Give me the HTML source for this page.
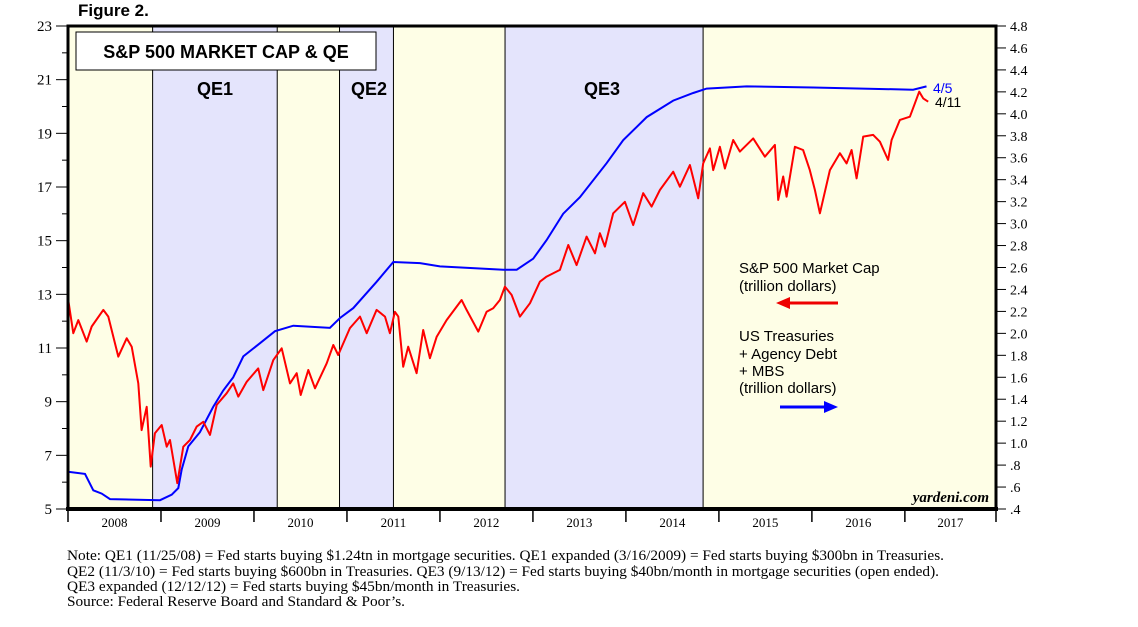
<!DOCTYPE html>
<html><head><meta charset="utf-8"><style>
body{margin:0;background:#fff;width:1138px;height:622px;overflow:hidden}
svg text{font-family:"Liberation Sans",sans-serif}
svg text.ser, svg .ser text{font-family:"Liberation Serif",serif}
</style></head><body>
<svg id="chart" width="1138" height="622" viewBox="0 0 1138 622" xmlns="http://www.w3.org/2000/svg">
<text x="78" y="16" font-size="17" font-weight="bold">Figure 2.</text>
<g id="bands"></g>
<g id="lines"></g>
<rect x="68" y="26" width="928" height="483" fill="none" stroke="#000" stroke-width="3"/>
<line x1="66" y1="509" x2="998" y2="509" stroke="#000" stroke-width="4"/>
<g id="axes"></g>
<rect x="76" y="32" width="300" height="38" fill="#fff" stroke="#000" stroke-width="1"/>
<text x="226" y="58" font-size="18" font-weight="bold" text-anchor="middle">S&amp;P 500 MARKET CAP &amp; QE</text>
<text x="215" y="95" font-size="18" font-weight="bold" text-anchor="middle">QE1</text>
<text x="369" y="95" font-size="18" font-weight="bold" text-anchor="middle">QE2</text>
<text x="602" y="95" font-size="18" font-weight="bold" text-anchor="middle">QE3</text>
<g font-size="15">
<text x="739" y="273">S&amp;P 500 Market Cap</text>
<text x="739" y="291">(trillion dollars)</text>
<line x1="785" y1="303" x2="838" y2="303" stroke="#e00" stroke-width="3"/>
<polygon points="776,303 790,297 790,309" fill="#e00"/>
</g>
<g font-size="15">
<text x="739" y="341">US Treasuries</text>
<text x="739" y="359">+ Agency Debt</text>
<text x="739" y="376">+ MBS</text>
<text x="739" y="393">(trillion dollars)</text>
<line x1="780" y1="407" x2="828" y2="407" stroke="#00f" stroke-width="3"/>
<polygon points="838,407 824,401 824,413" fill="#00f"/>
</g>
<text x="933" y="93" font-size="14" fill="#00f">4/5</text>
<text x="935" y="107" font-size="14">4/11</text>
<text class="ser" x="989" y="502" font-size="15" font-style="italic" font-weight="bold" text-anchor="end">yardeni.com</text>
<g class="ser" font-size="14.5">
<text x="67" y="560" textLength="877" lengthAdjust="spacingAndGlyphs">Note: QE1 (11/25/08) = Fed starts buying $1.24tn in mortgage securities. QE1 expanded (3/16/2009) = Fed starts buying $300bn in Treasuries.</text>
<text x="67" y="576" textLength="872" lengthAdjust="spacingAndGlyphs">QE2 (11/3/10) = Fed starts buying $600bn in Treasuries. QE3 (9/13/12) = Fed starts buying $40bn/month in mortgage securities (open ended).</text>
<text x="67" y="591" textLength="453" lengthAdjust="spacingAndGlyphs">QE3 expanded (12/12/12) = Fed starts buying $45bn/month in Treasuries.</text>
<text x="67" y="606" textLength="338" lengthAdjust="spacingAndGlyphs">Source: Federal Reserve Board and Standard &amp; Poor’s.</text>
</g>
</svg>
<script>
const spDates=[2008.00,2008.057,2008.111,2008.201,2008.255,2008.380,2008.433,2008.541,2008.631,2008.685,2008.756,2008.792,2008.846,2008.889,2008.935,2009.008,2009.061,2009.097,2009.175,2009.240,2009.312,2009.384,2009.455,2009.527,2009.599,2009.706,2009.777,2009.831,2009.922,2010.046,2010.100,2010.208,2010.298,2010.387,2010.459,2010.502,2010.584,2010.656,2010.782,2010.853,2010.906,2011.032,2011.140,2011.212,2011.319,2011.409,2011.462,2011.516,2011.552,2011.605,2011.659,2011.749,2011.820,2011.892,2011.965,2012.072,2012.233,2012.287,2012.412,2012.502,2012.573,2012.645,2012.699,2012.771,2012.860,2012.968,2013.075,2013.147,2013.290,2013.380,2013.470,2013.577,2013.667,2013.720,2013.774,2013.863,2013.989,2014.078,2014.186,2014.276,2014.366,2014.509,2014.581,2014.688,2014.777,2014.831,2014.903,2014.939,2015.011,2015.065,2015.154,2015.226,2015.369,2015.495,2015.602,2015.638,2015.692,2015.728,2015.817,2015.906,2015.978,2016.032,2016.086,2016.194,2016.301,2016.373,2016.427,2016.481,2016.552,2016.659,2016.731,2016.820,2016.857,2016.946,2017.054,2017.108,2017.154,2017.197,2017.251];
const spValues=[12.85,11.55,12.04,11.24,11.80,12.42,12.17,10.68,11.36,11.05,9.68,7.94,8.81,6.58,7.82,8.13,7.32,7.57,5.96,7.32,7.57,8.07,8.25,7.76,8.88,9.31,9.68,9.19,9.74,10.24,9.43,10.55,10.99,9.68,10.06,9.25,10.18,9.50,10.43,11.11,10.74,11.74,12.17,11.55,12.42,12.17,11.55,12.35,12.17,10.30,11.05,10.06,11.67,10.62,11.42,12.04,12.79,12.42,11.61,12.35,12.48,12.79,13.29,12.98,12.17,12.67,13.47,13.66,13.91,14.84,14.09,15.15,14.53,15.28,14.78,16.02,16.45,15.58,16.77,16.27,16.89,17.57,17.01,17.82,16.58,17.88,18.44,17.63,18.50,17.69,18.75,18.32,18.81,18.13,18.57,16.52,17.39,16.64,18.50,18.38,17.63,16.89,16.02,17.63,18.26,17.88,18.38,17.32,18.88,18.94,18.69,18.01,18.75,19.50,19.62,20.12,20.55,20.30,20.18];
const fedDates=[2008.00,2008.183,2008.272,2008.362,2008.452,2008.989,2009.115,2009.186,2009.223,2009.294,2009.419,2009.562,2009.670,2009.777,2009.885,2010.065,2010.226,2010.423,2010.817,2010.925,2011.068,2011.319,2011.498,2011.785,2012.0,2012.681,2012.825,2013.003,2013.147,2013.326,2013.505,2013.792,2013.971,2014.223,2014.509,2014.724,2014.868,2015.298,2016.014,2017.089,2017.233];
const fedValues=[0.74,0.72,0.57,0.54,0.49,0.48,0.53,0.59,0.76,0.97,1.10,1.33,1.48,1.60,1.79,1.91,2.02,2.07,2.05,2.14,2.23,2.47,2.65,2.64,2.61,2.58,2.58,2.68,2.85,3.09,3.24,3.55,3.76,3.97,4.12,4.19,4.23,4.25,4.24,4.22,4.25];
const qeBandStarts=[2008.0,2008.91,2010.25,2010.92,2011.5,2012.70,2014.83];
const qeBandEnds=[2008.91,2010.25,2010.92,2011.5,2012.70,2014.83,2017.98];
const qeBandIsQE=[false,true,false,true,false,true,false];
const yearLabels=["2008","2009","2010","2011","2012","2013","2014","2015","2016","2017"];
const leftTicks=[5,7,9,11,13,15,17,19,21,23];
const rightTicks=[0.4,0.6,0.8,1.0,1.2,1.4,1.6,1.8,2.0,2.2,2.4,2.6,2.8,3.0,3.2,3.4,3.6,3.8,4.0,4.2,4.4,4.6,4.8];

const NS="http://www.w3.org/2000/svg";
const X0=68,X1=996,Y0=509,Y1=26,T0=2008,T1=2017.98;
const xs=t=>X0+(t-T0)/(T1-T0)*(X1-X0);
const yl=v=>Y0-(v-5)/(23-5)*(Y0-Y1);
const yr=v=>Y0-(v-0.4)/(4.8-0.4)*(Y0-Y1);
function mk(tag,attrs,parent){const e=document.createElementNS(NS,tag);for(const k in attrs)e.setAttribute(k,attrs[k]);parent.appendChild(e);return e;}
const bands=document.getElementById('bands'),lines=document.getElementById('lines'),axes=document.getElementById('axes');
qeBandStarts.forEach((s,i)=>{
  const r=mk('rect',{x:xs(s),y:Y1,width:xs(qeBandEnds[i])-xs(s),height:Y0-Y1,fill:qeBandIsQE[i]?'#e4e4fc':'#fefee6'},bands);
  
  
  if(i>0){const l=mk('line',{x1:xs(s),y1:Y1,x2:xs(s),y2:Y0,stroke:'#000','stroke-width':1},bands);
  
  }
});
const bp=mk('polyline',{points:fedDates.map((d,i)=>xs(d).toFixed(1)+','+yr(fedValues[i]).toFixed(1)).join(' '),fill:'none',stroke:'#0000ff','stroke-width':2},lines);


const rp=mk('polyline',{points:spDates.map((d,i)=>xs(d).toFixed(1)+','+yl(spValues[i]).toFixed(1)).join(' '),fill:'none',stroke:'#ff0000','stroke-width':2,'stroke-linejoin':'round'},lines);


leftTicks.forEach(v=>{
  const y=yl(v);
  mk('line',{x1:56,y1:y,x2:68,y2:y,stroke:'#000','stroke-width':1},axes);
  if(v<23)mk('line',{x1:62,y1:yl(v+1),x2:68,y2:yl(v+1),stroke:'#000','stroke-width':1},axes);
  const t=mk('text',{x:52,y:y+5,'font-size':15,'text-anchor':'end','class':'ser'},axes);t.textContent=v;
  
  
});
rightTicks.forEach(v=>{
  const y=yr(v);
  mk('line',{x1:996,y1:y,x2:1006,y2:y,stroke:'#000','stroke-width':1},axes);
  let s=v.toFixed(1);if(v<1)s=s.slice(1);
  const t=mk('text',{x:1010,y:y+5,'font-size':14,'class':'ser'},axes);t.textContent=s;
  
  
});
yearLabels.forEach((yy,i)=>{
  const a=xs(T0+i),b=xs(T0+i+1);
  mk('line',{x1:a,y1:509,x2:a,y2:522,stroke:'#000','stroke-width':1.5},axes);
  const t=mk('text',{x:(a+Math.min(b,996))/2,y:527,'font-size':13,'text-anchor':'middle','class':'ser'},axes);t.textContent=yy;
  
  
});
mk('line',{x1:996,y1:509,x2:996,y2:522,stroke:'#000','stroke-width':1.5},axes);
</script>
</body></html>
